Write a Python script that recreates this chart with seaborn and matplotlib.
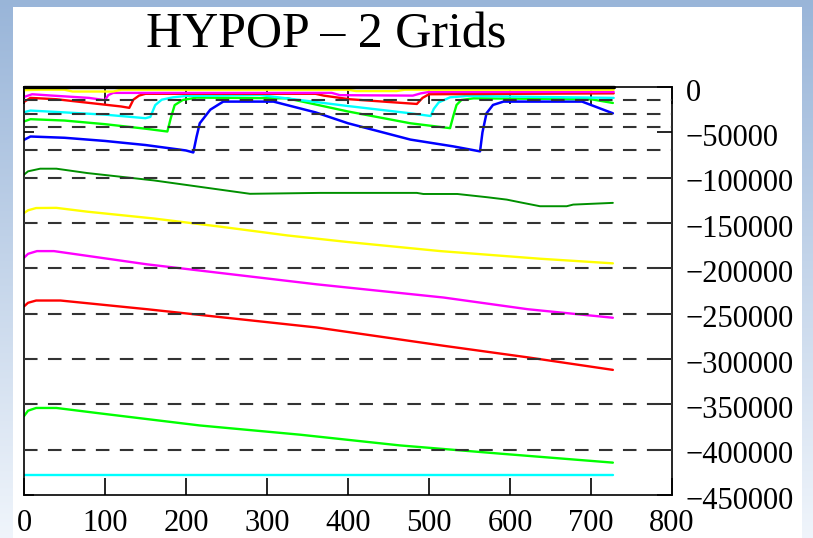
import numpy as np
import matplotlib
matplotlib.use("Agg")
import matplotlib.pyplot as plt
import matplotlib.transforms as mtransforms
from matplotlib.patches import Rectangle
import seaborn as sns

# ---------------- data ----------------
title = "HYPOP – 2 Grids"
xticks = [0, 100, 200, 300, 400, 500, 600, 700, 800]
xtick_labels = ["0", "100", "200", "300", "400", "500", "600", "700", "800"]
yticks = [0, -50000, -100000, -150000, -200000, -250000, -300000, -350000, -400000, -450000]
ytick_labels = ["0", "\u221250000", "\u2212100000", "\u2212150000", "\u2212200000",
                "\u2212250000", "\u2212300000", "\u2212350000", "\u2212400000", "\u2212450000"]
ref_levels = [-14000, -29500, -44500, -69500, -100000, -150000, -200000,
              -250000, -300000, -350000, -400000]

black_x = [0, 728]
black_y = [0, 0]

yellow_top_x = [0, 20, 50, 60, 110, 120, 400, 410, 460, 470, 728]
yellow_top_y = [-3500, -3000, -3000, -5000, -5000, -3000, -3000, -4500, -4500, -3000, -3000]

magenta_top_x = [0, 10, 35, 80, 100, 104, 110, 380, 390, 480, 490, 500, 728]
magenta_top_y = [-11000, -8000, -9500, -12000, -14500, -9000, -6500, -6500, -9000, -9500, -7000, -5500, -5500]

red_top_x = [0, 8, 40, 80, 120, 130, 135, 142, 150, 360, 370, 402, 485, 492, 500, 728]
red_top_y = [-16500, -12000, -13500, -17500, -21500, -23000, -14000, -9500, -7500, -7500, -9500, -13500, -18700, -12000, -8000, -7000]

cyan_top_x = [0, 8, 50, 100, 150, 156, 162, 170, 184, 200, 291, 400, 477, 502, 506, 512, 526, 547, 728]
cyan_top_y = [-27800, -26000, -28000, -30500, -34400, -33000, -20000, -14000, -11400, -9900, -8800, -21000, -29000, -32000, -24000, -17000, -11400, -9900, -12000]

green_top_x = [0, 8, 50, 100, 150, 177, 181, 186, 196, 213, 325, 400, 477, 526, 530, 534, 540, 555, 700, 727]
green_top_y = [-38000, -35500, -37000, -41000, -46000, -49100, -35000, -20000, -14300, -11700, -12500, -27000, -40000, -45400, -32000, -19800, -14300, -12500, -13500, -17600]

blue_top_x = [0, 8, 50, 100, 150, 200, 209, 213, 217, 230, 246, 308, 360, 400, 477, 530, 563, 566, 571, 579, 592, 689, 727]
blue_top_y = [-58300, -54600, -56000, -59500, -64000, -70000, -72200, -55000, -40000, -25000, -16100, -16100, -28000, -40000, -58000, -65500, -71000, -50000, -29000, -19800, -16100, -16100, -29000]

darkgreen_x = [0, 5, 20, 40, 78, 160, 242, 279, 365, 485, 493, 535, 572, 596, 612, 637, 670, 678, 727]
darkgreen_y = [-96700, -93000, -90100, -90100, -94900, -103000, -113200, -117800, -116800, -116800, -118000, -118000, -121600, -124200, -127100, -131500, -131500, -129700, -127800]

yellow_x = [0, 5, 15, 40, 78, 160, 242, 325, 400, 514, 637, 727]
yellow_y = [-139000, -136000, -133500, -133300, -137500, -145000, -154000, -163700, -171000, -181000, -189400, -194500]

magenta_x = [0, 5, 16, 37, 152, 361, 518, 622, 727]
magenta_y = [-188300, -184000, -181000, -181000, -195600, -217600, -232200, -245100, -254500]

red_x = [0, 5, 15, 45, 152, 361, 518, 622, 727]
red_y = [-242000, -238000, -235500, -235500, -245100, -265200, -285400, -298200, -312000]

lime_x = [0, 5, 15, 40, 94, 217, 341, 464, 588, 727]
lime_y = [-363000, -357000, -354000, -354000, -360000, -373300, -383500, -395300, -404400, -414300]

cyan_x = [0, 727]
cyan_y = [-428300, -428300]

# ---------------- style ----------------
sns.set_theme(style="white")
plt.rcParams["font.family"] = ["Liberation Serif", "DejaVu Serif"]
plt.rcParams["axes.unicode_minus"] = True

W, H = 813, 538
fig = plt.figure(figsize=(W / 100, H / 100), dpi=100)
fig.patch.set_facecolor("white")

# slide-like background: bluish gradient border, white content box
bg = fig.add_axes([0, 0, 1, 1], zorder=-10)
bg.set_axis_off()
t = np.linspace(0, 1, 256)[:, None]
top_c = np.array([0.60, 0.71, 0.85])
bot_c = np.array([0.94, 0.96, 0.985])
grad = (1 - t)[..., None] * top_c + t[..., None] * bot_c
grad = np.repeat(grad, 4, axis=1)
bg.imshow(grad, aspect="auto", extent=[0, 1, 0, 1], origin="upper")
bg.add_patch(Rectangle((13 / W, 0), (802 - 13) / W, (H - 7) / H,
                       facecolor="white", edgecolor="none"))
bg.set_xlim(0, 1)
bg.set_ylim(0, 1)

ax = fig.add_axes([24 / W, 1 - 495 / H, (672 - 24) / W, (495 - 87) / H])
ax.set_facecolor("white")

series = [
    (cyan_x, cyan_y, "#00ffff", 1.7),
    (lime_x, lime_y, "#00ff00", 1.7),
    (red_x, red_y, "#ff0000", 1.7),
    (magenta_x, magenta_y, "#ff00ff", 1.7),
    (yellow_x, yellow_y, "#ffff00", 1.7),
    (darkgreen_x, darkgreen_y, "#009000", 1.4),
    (blue_top_x, blue_top_y, "#0000ff", 1.8),
    (green_top_x, green_top_y, "#00ff00", 1.7),
    (cyan_top_x, cyan_top_y, "#00ffff", 1.7),
    (red_top_x, red_top_y, "#ff0000", 1.7),
    (magenta_top_x, magenta_top_y, "#ff00ff", 1.7),
    (yellow_top_x, yellow_top_y, "#ffff00", 1.7),
]
for xs, ys, c, lw in series:
    sns.lineplot(x=xs, y=ys, color=c, linewidth=lw, ax=ax,
                 estimator=None, sort=False, zorder=2)

for lvl in ref_levels:
    ax.axhline(lvl, color="#333333", linewidth=1.5, dashes=(6.5, 5), zorder=3)

sns.lineplot(x=black_x, y=black_y, color="black", linewidth=2.4, ax=ax,
             estimator=None, sort=False, zorder=4)
ax.lines[-1].set_clip_on(False)

ax.set_xlim(0, 800)
ax.set_ylim(-450000, 0)
ax.set_xticks(xticks, labels=xtick_labels)
ax.set_yticks(yticks, labels=ytick_labels)
ax.set_xlabel("")
ax.set_ylabel("")

for sp in ax.spines.values():
    sp.set_visible(True)
    sp.set_color("black")
    sp.set_linewidth(1.2)

ax.tick_params(axis="x", direction="in", top=True, bottom=True, length=12,
               width=1.2, color="black", pad=10, labelsize=22, labelcolor="black")
ax.tick_params(axis="y", direction="in", left=True, right=True, labelleft=False,
               labelright=True, length=11, width=1.2, color="black", pad=10,
               labelsize=22, labelcolor="black")
for tk in ax.yaxis.get_major_ticks():
    tk.tick1line.set_markersize(7)

off = mtransforms.ScaledTranslation(0, -2 / 72, fig.dpi_scale_trans)
for lab in ax.get_yticklabels():
    lab.set_transform(lab.get_transform() + off)

fig.text(326 / W, 1 - 47 / H, title, ha="center", va="baseline", fontsize=36,
         color="black")

fig.savefig("out.png", dpi=100)
